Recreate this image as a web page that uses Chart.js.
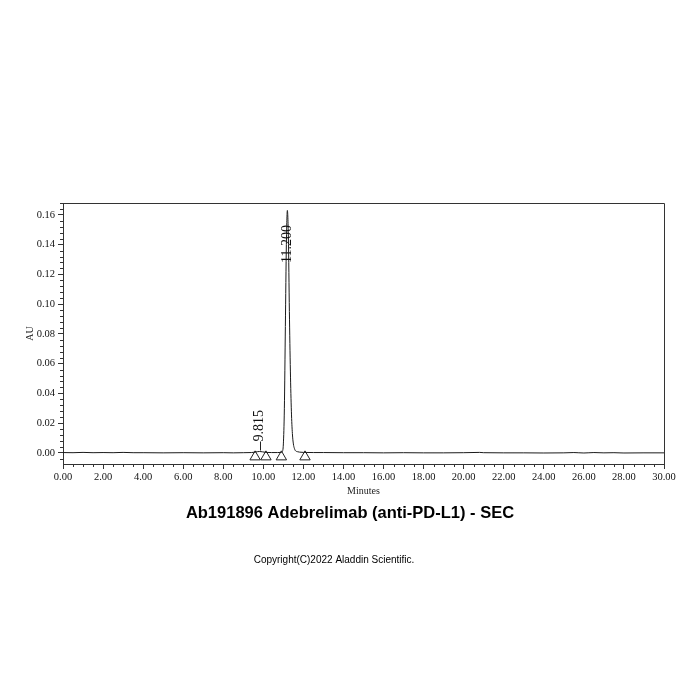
<!DOCTYPE html>
<html>
<head>
<meta charset="utf-8">
<script src="https://cdn.jsdelivr.net/npm/chart.js@4/dist/chart.umd.min.js"></script>
<style>
  html, body { margin: 0; padding: 0; background: #ffffff; }
  #wrap { width: 700px; height: 700px; position: relative; }
</style>
</head>
<body>
<div id="wrap"><canvas id="c" width="700" height="700"></canvas></div>
<script>
// ---- data ----
const times = [0, 0.5, 1, 1.5, 2, 2.5, 3, 3.5, 4, 5, 6, 7, 8, 8.5, 9, 9.4, 9.6, 9.7, 9.815, 9.95, 10.13, 10.4, 10.7, 10.9, 10.95, 11.0, 11.05, 11.1, 11.15, 11.2, 11.25, 11.3, 11.35, 11.4, 11.45, 11.5, 11.55, 11.6, 11.7, 11.8, 12.0, 12.5, 13, 14, 15, 16, 17, 18, 19, 20, 20.8, 21, 22, 23, 24, 25, 25.5, 26, 26.5, 27, 27.5, 28, 29, 30];
const absorbance = [0.0002, 0.0001, 0.0003, 0.0001, 0.0002, 0.0001, 0.0003, 0.0001, 0.0001, 0.0000, 0.0001, 0.0000, 0.0001, 0.0000, 0.0001, 0.0002, 0.0005, 0.0008, 0.0009, 0.0007, 0.0003, 0.0002, 0.0002, 0.0003, 0.0010, 0.0060, 0.0300, 0.0850, 0.1400, 0.1630, 0.1450, 0.0950, 0.0550, 0.0280, 0.0130, 0.0060, 0.0030, 0.0015, 0.0008, 0.0005, 0.0003, 0.0002, 0.0002, 0.0001, 0.0001, 0.0000, 0.0001, 0.0000, 0.0000, 0.0001, 0.0003, 0.0001, 0.0000, 0.0000, -0.0001, 0.0000, 0.0002, -0.0001, 0.0002, 0.0000, 0.0001, -0.0001, 0.0000, 0.0000];

const markerTimes = [9.59, 10.13, 10.90, 12.08];
const markerLevel = [-0.0027, -0.0027, -0.0027, -0.0027];

const peakTimes = [9.815, 11.200];
const peakHeights = [0.0009, 0.1630];
const peakLabels = ['9.815', '11.200'];

const xAxisTitle = 'Minutes';
const yAxisTitle = 'AU';
const chartTitle = 'Ab191896 Adebrelimab (anti-PD-L1) - SEC';
const copyrightText = 'Copyright(C)2022 Aladdin Scientific.';

// ---- plugins ----
const framePlugin = {
  id: 'frame',
  afterDraw(chart) {
    const {ctx, chartArea: a, scales: {x, y}} = chart;
    ctx.save();
    ctx.strokeStyle = '#333';
    ctx.lineWidth = 1;
    // top & right border
    ctx.beginPath();
    ctx.moveTo(Math.round(a.left) + 0.5, Math.round(a.top) + 0.5);
    ctx.lineTo(Math.round(a.right) + 0.5, Math.round(a.top) + 0.5);
    ctx.lineTo(Math.round(a.right) + 0.5, Math.round(a.bottom) + 0.5);
    ctx.stroke();
    // minor ticks
    ctx.beginPath();
    for (let v = 0; v <= x.max + 1e-9; v += 0.5) {
      if (Math.abs(v / 2 - Math.round(v / 2)) < 1e-6) continue;
      const px = Math.round(x.getPixelForValue(v)) + 0.5;
      ctx.moveTo(px, a.bottom);
      ctx.lineTo(px, a.bottom + 3);
    }
    for (let k = Math.ceil(y.min / 0.004); k * 0.004 <= y.max + 1e-9; k++) {
      if (k % 5 === 0) continue;
      const py = Math.round(y.getPixelForValue(k * 0.004)) + 0.5;
      ctx.moveTo(a.left, py);
      ctx.lineTo(a.left - 3, py);
    }
    ctx.stroke();

    // peak labels
    ctx.fillStyle = '#111';
    ctx.strokeStyle = '#222';
    ctx.font = '14px "Liberation Serif"';
    peakLabels.forEach((lab, i) => {
      const px = x.getPixelForValue(peakTimes[i]);
      const apex = y.getPixelForValue(peakHeights[i]);
      const w = ctx.measureText(lab).width;
      let start;
      if (apex - 12 - w < a.top + 4) {
        start = a.top + 22 + w;
      } else {
        start = apex - 10;
        ctx.beginPath();
        ctx.moveTo(Math.round(px) + 0.5, apex - 1);
        ctx.lineTo(Math.round(px) + 0.5, start);
        ctx.stroke();
      }
      ctx.save();
      ctx.translate(px, start);
      ctx.rotate(-Math.PI / 2);
      ctx.textAlign = 'left';
      ctx.textBaseline = 'middle';
      ctx.fillText(lab, 0, 0);
      ctx.restore();
    });

    // title and copyright
    ctx.fillStyle = '#000';
    ctx.textAlign = 'center';
    ctx.textBaseline = 'middle';
    ctx.font = 'bold 16.5px "Liberation Sans", Arial, sans-serif';
    ctx.fillText(chartTitle, 350, 513);
    ctx.font = '10px "Liberation Sans", Arial, sans-serif';
    ctx.fillText(copyrightText, 334, 560);
    ctx.restore();
  }
};

new Chart(document.getElementById('c'), {
  type: 'scatter',
  data: {
    datasets: [
      {
        data: times.map((t, i) => ({x: t, y: absorbance[i]})),
        showLine: true,
        borderColor: '#1a1a1a',
        borderWidth: 1,
        pointRadius: 0,
        cubicInterpolationMode: 'monotone'
      },
      {
        data: markerTimes.map((t, i) => ({x: t, y: markerLevel[i]})),
        showLine: false,
        pointStyle: 'triangle',
        pointRadius: 6,
        backgroundColor: 'rgba(255,255,255,0)',
        borderColor: '#222',
        borderWidth: 1
      }
    ]
  },
  options: {
    responsive: false,
    animation: false,
    devicePixelRatio: 1,
    layout: { padding: { top: 203, right: 36, bottom: 202, left: 0 } },
    plugins: { legend: { display: false }, tooltip: { enabled: false } },
    scales: {
      x: {
        type: 'linear',
        min: 0,
        max: 30,
        afterFit(s) { s.height = 34; },
        grid: { drawOnChartArea: false, tickLength: 5, color: '#333' },
        border: { color: '#333', width: 1 },
        ticks: {
          stepSize: 2,
          autoSkip: false,
          maxRotation: 0,
          padding: 2,
          color: '#111',
          font: { family: '"Liberation Serif"', size: 10.5 },
          callback: v => Number(v).toFixed(2)
        },
        title: {
          display: true,
          text: xAxisTitle,
          color: '#222',
          font: { family: '"Liberation Serif"', size: 10 },
          padding: { top: 0, bottom: 1 }
        }
      },
      y: {
        type: 'linear',
        min: -0.0075,
        max: 0.168,
        afterFit(s) { s.width = 63; },
        grid: { drawOnChartArea: false, tickLength: 5, color: '#333' },
        border: { color: '#333', width: 1 },
        ticks: {
          stepSize: 0.02,
          includeBounds: false,
          padding: 3,
          color: '#111',
          font: { family: '"Liberation Serif"', size: 10.5 },
          callback: v => Number(v).toFixed(2)
        },
        title: {
          display: true,
          text: yAxisTitle,
          color: '#222',
          font: { family: '"Liberation Serif"', size: 10 },
          padding: { top: 24, bottom: 0 }
        }
      }
    }
  },
  plugins: [framePlugin]
});
</script>
</body>
</html>
